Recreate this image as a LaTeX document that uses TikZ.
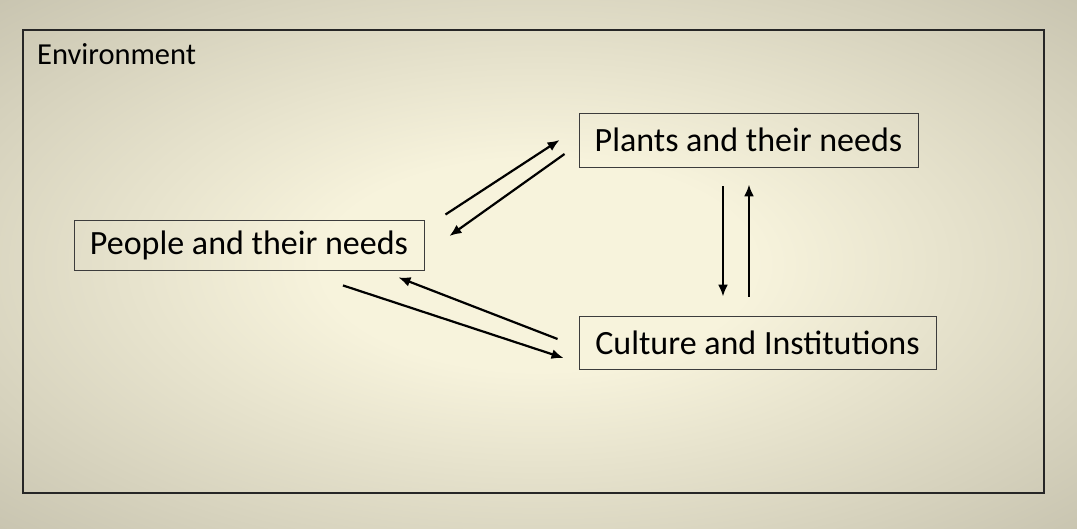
\documentclass[tikz,border=0pt]{standalone}
\usepackage{fontspec}
\setmainfont{Carlito}
\usetikzlibrary{arrows.meta}
\definecolor{bgin}{HTML}{F7F3DC}
\definecolor{bgout}{HTML}{C6C2AE}
\definecolor{boxline}{HTML}{3C3C3C}
\pgfdeclareradialshading{bgshade}{\pgfpoint{0bp}{0bp}}{color(0bp)=(bgin); color(10bp)=(bgin); color(37bp)=(bgout); color(50bp)=(bgout)}
\tikzset{
  conceptbox/.style={draw=boxline, line width=0.9pt, fill=none, inner sep=0pt,
    font=\fontsize{34}{40}\selectfont, anchor=center},
  arr/.style={line width=2.2pt, -{Latex[length=12pt,width=10pt]}},
}
\begin{document}
\begin{tikzpicture}[x=1pt,y=1pt]
\useasboundingbox (0,0) rectangle (1077,529);
\shade[shading=bgshade] (0,0) rectangle (1077,529);
\draw[line width=1.3pt, color=black!85] (23,36) rectangle (1044,499);
\node[anchor=base west, font=\fontsize{30.5}{36}\selectfont, inner sep=0pt] (env) at (37,464) {Environment};
\node[conceptbox, minimum width=350pt, minimum height=50pt] (people) at (249,284) {People and their needs};
\node[conceptbox, minimum width=339pt, minimum height=54pt] (plants) at (748.5,389) {Plants and their needs};
\node[conceptbox, minimum width=357pt, minimum height=53pt] (culture) at (757.5,186.5) {Culture and Institutions};
% people <-> plants
\draw[arr] ([shift={(21,5)}]people.north east) -- ([shift={(-19,0)}]plants.west);
\draw[arr] ([shift={(-14,-14)}]plants.west) -- ([shift={(25,9)}]people.east);
% people <-> culture
\draw[arr] ([shift={(94,-15)}]people.south) -- ([shift={(-15,-15.5)}]culture.west);
\draw[arr] ([shift={(-21,3.5)}]culture.west) -- ([shift={(-26,-7)}]people.south east);
% plants <-> culture
\draw[arr] ([shift={(-25.5,-19)}]plants.south) -- ([shift={(-34.5,19)}]culture.north);
\draw[arr] ([shift={(-8.5,19)}]culture.north) -- ([shift={(0.5,-17)}]plants.south);
\end{tikzpicture}
\end{document}
